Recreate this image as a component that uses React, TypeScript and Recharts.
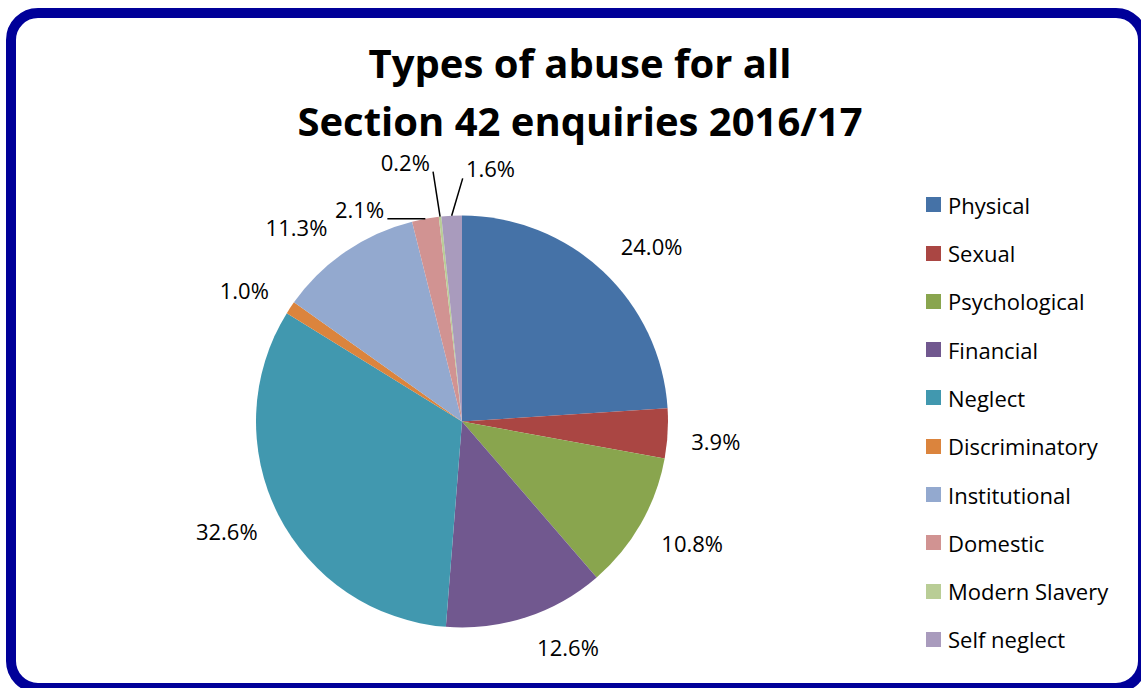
import React from 'react';
import { PieChart, Pie, Cell } from 'recharts';

const categories = [
  'Physical',
  'Sexual',
  'Psychological',
  'Financial',
  'Neglect',
  'Discriminatory',
  'Institutional',
  'Domestic',
  'Modern Slavery',
  'Self neglect',
];
const shares = [24.0, 3.9, 10.8, 12.6, 32.6, 1.0, 11.3, 2.1, 0.2, 1.6];
const colors = [
  '#4572A7',
  '#AA4643',
  '#89A54E',
  '#71588F',
  '#4198AF',
  '#DB843D',
  '#93A9CF',
  '#D19392',
  '#B9CD96',
  '#A99BBD',
];
const titleLines = ['Types of abuse for all', 'Section 42 enquiries 2016/17'];

// label placement tweaks (degrees clockwise, extra radial px) and leader lines
const labelAngleNudge = [4, 1, -2, -7, 2, -2.4, -6, -15.5, -6.2, 9.3];
const labelRadialNudge = [5, 5, 4, 3, 3, 4, 4, -8, 27, 18];
const leaderLine = [false, false, false, false, false, false, false, true, true, true];

const data = categories.map((name, i) => ({ name, value: shares[i] }));

const FONT = "'Open Sans', sans-serif";
const RAD = Math.PI / 180;

const renderLabel = (props: any) => {
  const { cx, cy, midAngle, outerRadius, index, value } = props;
  const text = Number(value).toFixed(1) + '%';
  const w = text.length * 12.4;
  const h = 20;
  const cwMid = 90 - midAngle;
  const cw = cwMid + labelAngleNudge[index];
  const s = Math.sin(cw * RAD);
  const c = Math.cos(cw * RAD);
  const d = outerRadius + 18 + (Math.abs(c) * h) / 2 + (Math.abs(s) * w) / 2 + labelRadialNudge[index];
  const x = cx + d * s;
  const y = cy - d * c;
  let line = null;
  if (leaderLine[index]) {
    const px = cx + outerRadius * Math.sin(cwMid * RAD);
    const py = cy - outerRadius * Math.cos(cwMid * RAD);
    const pad = 3;
    const x0 = x - w / 2 - pad;
    const x1 = x + w / 2 + pad;
    const y0 = y - h / 2;
    const y1 = y + h / 2;
    const qx = Math.min(Math.max(px, x0), x1);
    const qy = Math.min(Math.max(py, y0), y1);
    line = <line x1={qx} y1={qy} x2={px} y2={py} stroke="#000" strokeWidth={1.5} />;
  }
  return (
    <g key={`lbl-${index}`}>
      {line}
      <text
        x={x}
        y={y}
        textAnchor="middle"
        dominantBaseline="central"
        fill="#000"
        fontSize={22}
        fontFamily={FONT}
      >
        {text}
      </text>
    </g>
  );
};

export default function App() {
  return (
    <div
      style={{
        position: 'fixed',
        left: 0,
        top: 0,
        width: 1141,
        height: 688,
        overflow: 'hidden',
        background: '#fff',
      }}
    >
      <div
        style={{
          position: 'absolute',
          left: 6,
          top: 8,
          width: 1142,
          height: 685,
          boxSizing: 'border-box',
          border: '10px solid #000099',
          borderRadius: 32,
          background: '#fff',
        }}
      />
      <svg
        width={1141}
        height={688}
        style={{ position: 'absolute', left: 0, top: 0 }}
      >
        {titleLines.map((t, i) => (
          <text
            key={t}
            x={580}
            y={78 + i * 58}
            textAnchor="middle"
            fontFamily={FONT}
            fontWeight="bold"
            fontSize={40}
            fill="#000"
          >
            {t}
          </text>
        ))}
      </svg>
      <div style={{ position: 'absolute', left: 0, top: 0 }}>
        <PieChart width={1141} height={688} margin={{ top: 0, right: 0, bottom: 0, left: 0 }}>
          <Pie
            data={data}
            dataKey="value"
            nameKey="name"
            cx={462}
            cy={421.5}
            outerRadius={206}
            startAngle={90}
            endAngle={-270}
            stroke="none"
            label={renderLabel}
            labelLine={false}
            isAnimationActive={false}
          >
            {data.map((d, i) => (
              <Cell key={d.name} fill={colors[i]} />
            ))}
          </Pie>
        </PieChart>
      </div>
      <div
        style={{
          position: 'absolute',
          left: 926,
          top: 180.6,
          fontFamily: FONT,
          fontSize: 22,
          color: '#000',
        }}
      >
        {categories.map((name, i) => (
          <div
            key={name}
            style={{ height: 48.3, display: 'flex', alignItems: 'center', whiteSpace: 'nowrap' }}
          >
            <span
              style={{
                display: 'inline-block',
                width: 15,
                height: 15,
                background: colors[i],
                marginRight: 7,
              }}
            />
            <span>{name}</span>
          </div>
        ))}
      </div>
    </div>
  );
}
